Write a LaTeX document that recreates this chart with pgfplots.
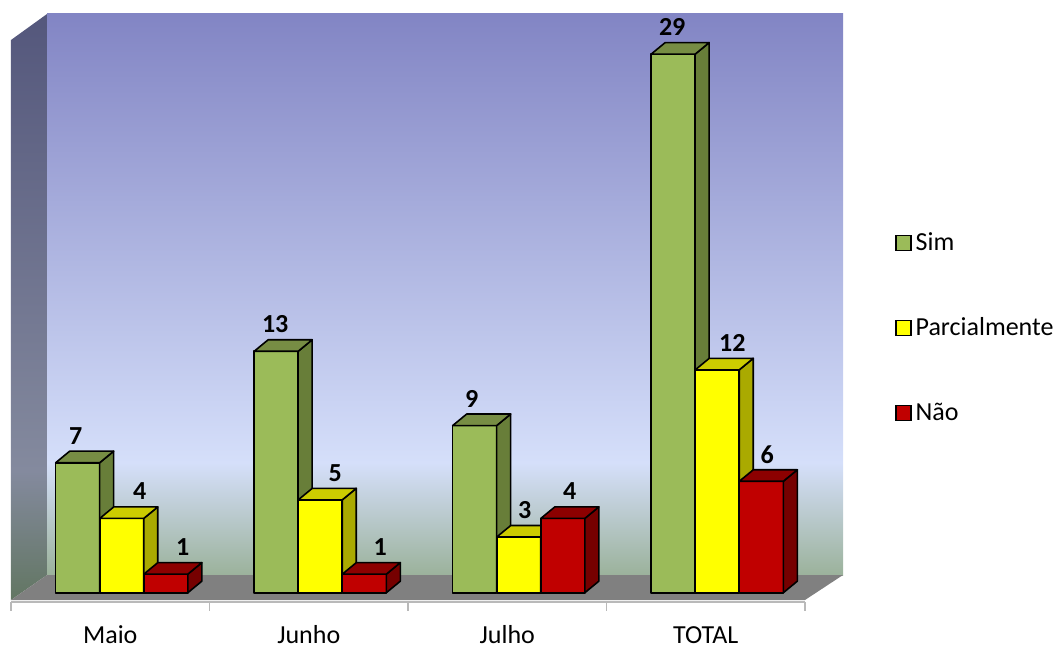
\documentclass[border=0pt]{standalone}
\usepackage{fontspec}
\setmainfont{Carlito}
\usepackage{pgfplots}
\usepackage{pgfplotstable}
\pgfplotsset{compat=1.18}

% series colours: front, side and top faces of each cuboid
\definecolor{simfront}{RGB}{155,187,89}
\definecolor{simside}{RGB}{104,126,57}
\definecolor{simtop}{RGB}{119,141,68}
\definecolor{parfront}{RGB}{255,255,0}
\definecolor{parside}{RGB}{170,170,0}
\definecolor{partop}{RGB}{204,204,0}
\definecolor{naofront}{RGB}{192,0,0}
\definecolor{naoside}{RGB}{118,0,0}
\definecolor{naotop}{RGB}{140,0,0}
% walls and floor
\definecolor{walltop}{RGB}{130,133,196}
\definecolor{walllight}{RGB}{213,223,250}
\definecolor{wallbase}{RGB}{155,178,155}
\definecolor{sidetop}{RGB}{84,87,124}
\definecolor{sidemid}{RGB}{132,138,158}
\definecolor{sidebase}{RGB}{98,118,98}
\definecolor{floorgray}{RGB}{128,128,128}
\definecolor{axisgray}{RGB}{185,185,185}

\pgfdeclareverticalshading{backwall}{100bp}{color(0bp)=(wallbase); color(25bp)=(wallbase); color(35bp)=(walllight); color(75bp)=(walltop); color(100bp)=(walltop)}
\pgfdeclareverticalshading{sidewall}{100bp}{color(0bp)=(sidebase); color(25bp)=(sidebase); color(36bp)=(sidemid); color(75bp)=(sidetop); color(100bp)=(sidetop)}

% x: category index, y: value, lx: horizontal offset of the value label (px)
\pgfplotstableread{
x y  lx
0 7  -2
1 13 -1
2 9  -3
3 29 -1
}\simdata
\pgfplotstableread{
x y  lx
0 4  18
1 5  15
2 3  6
3 12 15
}\pardata
\pgfplotstableread{
x y lx
0 1 17
1 1 16
2 4 7
3 6 6
}\naodata

% bar geometry in axis units (one x unit is 99.25pt)
\def\bw{0.2217}
\def\ddx{0.0705}
\def\ddy{0.62}

\pgfplotsset{
  bar edge/.style={draw=black, line width=0.8pt, line join=round},
  labelfont/.style={font=\fontsize{13}{15.6}\selectfont},
}

% side and top faces of the bars of one series
\newcommand\depthfaces[4]{%
  \pgfplotsforeachungrouped \i in {0,...,3}{%
    \pgfplotstablegetelem{\i}{x}\of#1\let\cx\pgfplotsretval
    \pgfplotstablegetelem{\i}{y}\of#1\let\cv\pgfplotsretval
    \pgfmathsetmacro\xl{\cx+#2-\bw/2}%
    \pgfmathsetmacro\xr{\cx+#2+\bw/2}%
    \pgfmathsetmacro\xlb{\xl+\ddx}%
    \pgfmathsetmacro\xrb{\xr+\ddx}%
    \pgfmathsetmacro\vb{\cv+\ddy}%
    \edef\temp{%
      \noexpand\addplot[forget plot, fill=#3, bar edge] coordinates {(\xr,0) (\xrb,\ddy) (\xrb,\vb) (\xr,\cv)} -- cycle;
      \noexpand\addplot[forget plot, fill=#4, bar edge] coordinates {(\xl,\cv) (\xr,\cv) (\xrb,\vb) (\xlb,\vb)} -- cycle;
    }\temp
  }%
}

% front faces with value labels
\newcommand\frontbars[3]{%
  \addplot[forget plot, ybar, bar width=\bw, bar shift=#2, fill=#3, bar edge,
    nodes near coords,
    visualization depends on={\thisrow{lx}\as\lx},
    every node near coord/.append style={font=\bfseries\fontsize{13}{15.6}\selectfont,
      text=black, anchor=center, yshift=13.5pt, xshift={#2*99.25pt+\lx*0.5pt}}]
    table[x=x, y=y] {#1};
}

\begin{document}
\begin{tikzpicture}
\useasboundingbox (0,0) rectangle (530.5pt,323.5pt);
\begin{axis}[
  at={(5.5pt,22.5pt)}, anchor=south west,
  scale only axis, width=416.5pt, height=294pt,
  xmin=-0.5, xmax=3.6965, ymin=-0.5, ymax=31.16,
  clip=false,
  axis line style={draw=none},
  ytick=\empty,
  xtick={0,1,2,3},
  xticklabels={Maio,Junho,Julho,TOTAL},
  xtick pos=bottom,
  tick align=outside,
  major tick length=0pt,
  xticklabel style={labelfont, anchor=center, inner sep=0pt, yshift=-16.5pt, text=black},
  extra x ticks={-0.5,0.5,1.5,2.5,3.5},
  extra x tick labels={},
  extra x tick style={major tick length=4.5pt, tick style={draw=axisgray, line width=0.6pt}},
  /pgf/number format/assume math mode=true,
  legend cell align=left,
  legend image code/.code={\draw[#1] (0pt,-3.75pt) rectangle (7.5pt,3.75pt);},
  legend style={draw=none, fill=none, labelfont, inner sep=0pt,
    at={(axis description cs:1.061,0.466)}, anchor=west, row sep=28pt},
]
% walls, floor and base line
\addplot[forget plot, draw=none, shading=sidewall, shade]
  coordinates {(-0.5,-0.393) (-0.5,29.76) (-0.3186,31.16) (-0.3186,0.953)} -- cycle;
\addplot[forget plot, draw=none, shading=backwall, shade]
  coordinates {(-0.3186,0.953) (3.6915,0.953) (3.6915,31.16) (-0.3186,31.16)} -- cycle;
\addplot[forget plot, draw=none, fill=floorgray]
  coordinates {(-0.5,-0.393) (3.5,-0.393) (3.6915,0.953) (-0.3186,0.953)} -- cycle;
\addplot[forget plot, draw=axisgray, line width=0.8pt]
  coordinates {(-0.5,-0.5) (3.5,-0.5)};

% bars
\frontbars{\simdata}{-0.164}{simfront}
\depthfaces{\simdata}{-0.164}{simside}{simtop}
\frontbars{\pardata}{0.058}{parfront}
\depthfaces{\pardata}{0.058}{parside}{partop}
\frontbars{\naodata}{0.280}{naofront}
\depthfaces{\naodata}{0.280}{naoside}{naotop}

% legend
\addlegendimage{fill=simfront, draw=black, line width=0.7pt}
\addlegendentry{Sim}
\addlegendimage{fill=parfront, draw=black, line width=0.7pt}
\addlegendentry{Parcialmente}
\addlegendimage{fill=naofront, draw=black, line width=0.7pt}
\addlegendentry{Não}
\end{axis}
\end{tikzpicture}
\end{document}
